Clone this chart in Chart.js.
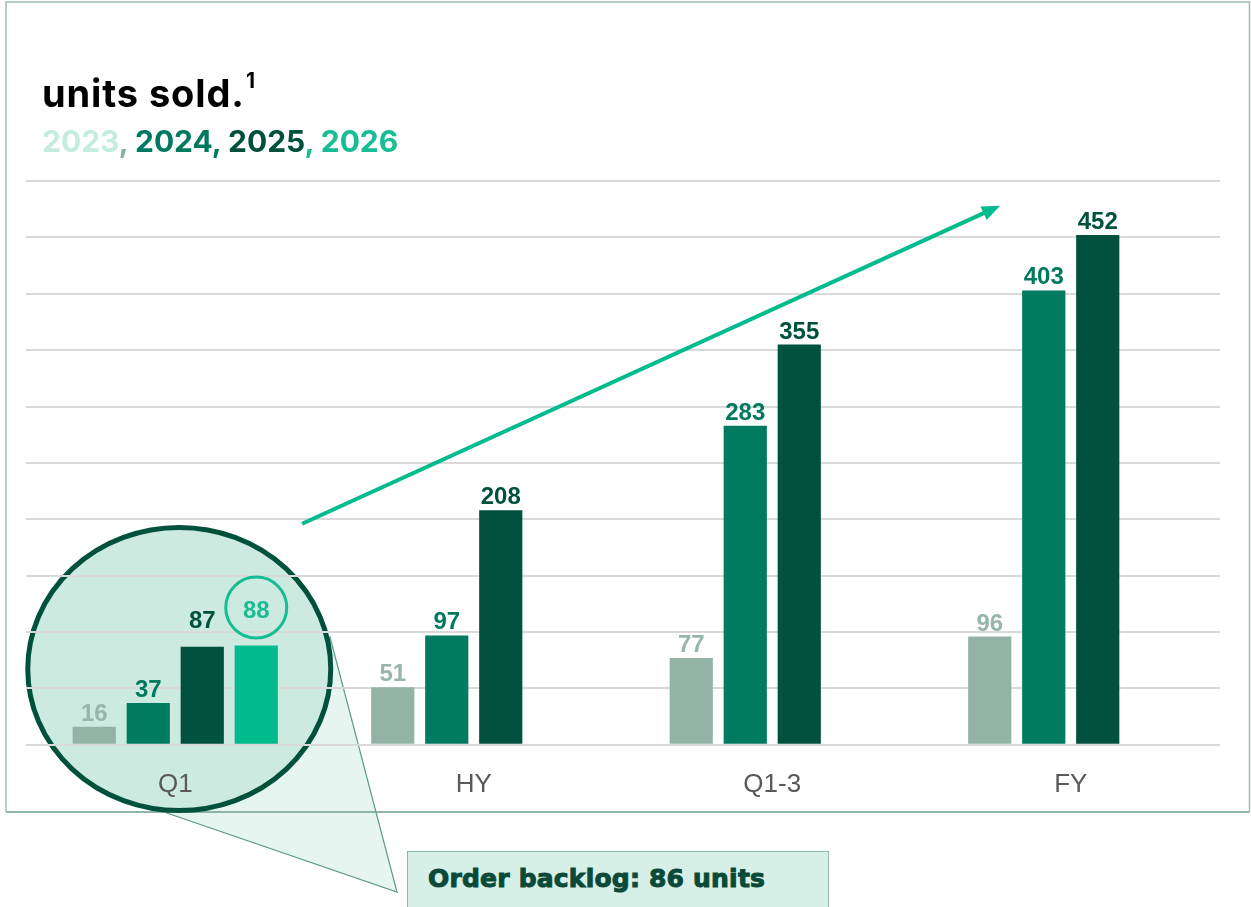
<!DOCTYPE html>
<html>
<head>
<meta charset="utf-8">
<script src="https://cdn.jsdelivr.net/npm/chart.js@4.4.1/dist/chart.umd.min.js"></script>
<style>
  html, body { margin: 0; padding: 0; background: #fff; }
  #wrap { position: relative; width: 1251px; height: 907px; overflow: hidden; }
  #chart { position: absolute; left: 0; top: 0; z-index: 0; }
  .title {
    position: absolute; left: 42px; top: 74px; z-index: 2;
    font: 700 38px Inter, "Liberation Sans", sans-serif; line-height: 38px;
    letter-spacing: 0.9px; color: #000; white-space: nowrap;
  }
  .title .sup { font-size: 21px; line-height: 0; position: relative; top: -19px; margin-left: 1px; letter-spacing: 0; }
  .subtitle {
    position: absolute; left: 42px; top: 126px; z-index: 2;
    font: 700 30px Inter, "Liberation Sans", sans-serif; line-height: 30px;
    white-space: nowrap;
  }
  .note {
    position: absolute; left: 407px; top: 851px; width: 422px; height: 80px; z-index: 2;
    box-sizing: border-box; background: #D6F0E8; border: 1.5px solid #8DB8A9;
  }
  .note span {
    position: absolute; left: 20px; top: 14px;
    font: 700 25px "DejaVu Sans", sans-serif; line-height: 25px; letter-spacing: 0.2px;
    color: #0B4A38; -webkit-text-stroke: 1px #0B4A38; white-space: nowrap;
  }
</style>
</head>
<body>
<div id="wrap">
  <canvas id="chart" width="1251" height="907"></canvas>
  <div class="title">units sold.<span class="sup">1</span></div>
  <div class="subtitle"><span style="color:#C4EDE1">2023</span><span style="color:#8FAEA2">,</span><span style="color:#007A5E"> 2024,</span><span style="color:#00513C"> 2025</span><span style="color:#17BE94">, 2026</span></div>
  <div class="note"><span>Order backlog: 86 units</span></div>
</div>
<script>
// Periods on the x axis
const categories = ['Q1', 'HY', 'Q1-3', 'FY'];
// Cumulative units sold per year
const units2023 = [16, 51, 77, 96];
const units2024 = [37, 97, 283, 403];
const units2025 = [87, 208, 355, 452];
const units2026 = [88, null, null, null];
const yearLabels = ['2023', '2024', '2025', '2026'];
// Value axis: gridlines every 50 units up to 500
const yMin = 0;
const yMax = 500;
const yStep = 50;

const barColors = ['#93B3A7', '#007B5F', '#00513D', '#00BC8C'];
const labelColors = ['#97B5AA', '#007A5E', '#00513C', '#1ABD93'];

// Raised labels for the highlighted Q1 bars (dataset index -> extra lift in px)
const q1LabelLift = { 2: 13, 3: 22 };

const decorPlugin = {
  id: 'decor',
  beforeDraw(chart) {
    const c = chart.ctx;
    c.save();
    c.fillStyle = '#fff';
    c.fillRect(0, 0, chart.width, chart.height);

    // wedge from the magnifier to the note box
    c.beginPath();
    c.moveTo(330, 637);
    c.lineTo(167, 813);
    c.lineTo(397, 892);
    c.closePath();
    c.fillStyle = '#E6F5F0';
    c.fill();
    c.strokeStyle = '#5E9A88';
    c.lineWidth = 1.2;
    c.stroke();

    // frame
    c.strokeStyle = '#9CC0B4';
    c.lineWidth = 1.5;
    c.beginPath();
    c.moveTo(6, 812); c.lineTo(6, 2); c.lineTo(1249.5, 2); c.lineTo(1249.5, 812);
    c.stroke();
    c.strokeStyle = '#6E9E8C';
    c.beginPath();
    c.moveTo(6, 812); c.lineTo(1249.5, 812);
    c.stroke();

    // magnifier around Q1
    const q1x = chart.scales.x.getPixelForValue(0);
    c.beginPath();
    c.ellipse(q1x + 4, 669, 151.5, 141.5, 0, 0, Math.PI * 2);
    c.fillStyle = '#CDEAE1';
    c.fill();
    c.strokeStyle = '#00513C';
    c.lineWidth = 5;
    c.stroke();
    c.restore();
  },
  afterDatasetsDraw(chart) {
    const c = chart.ctx;
    c.save();
    c.font = 'bold 24px "Liberation Sans", Arial, sans-serif';
    c.textAlign = 'center';
    c.textBaseline = 'alphabetic';
    chart.data.datasets.forEach((ds, di) => {
      const meta = chart.getDatasetMeta(di);
      meta.data.forEach((el, i) => {
        const v = ds.data[i];
        if (v === null || v === undefined) return;
        let y = el.y - 6;
        if (i === 0 && q1LabelLift[di]) y -= q1LabelLift[di];
        c.fillStyle = labelColors[di];
        c.fillText(String(v), el.x, y);
        if (di === 3 && i === 0) {
          // ring around the latest value
          c.beginPath();
          c.arc(el.x, y - 10, 30.5, 0, Math.PI * 2);
          c.strokeStyle = '#14BE91';
          c.lineWidth = 3;
          c.stroke();
        }
      });
    });
    c.restore();
  },
  afterDraw(chart) {
    // growth arrow
    const xs = chart.scales.x, ys = chart.scales.y;
    const xAt = f => {
      const i = Math.floor(f);
      const a = xs.getPixelForValue(i), b = xs.getPixelForValue(i + 1);
      return a + (b - a) * (f - i);
    };
    const x1 = xAt(0.425), y1 = ys.getPixelForValue(196);
    const x2 = xAt(2.763), y2 = ys.getPixelForValue(478);
    const ang = Math.atan2(y2 - y1, x2 - x1);
    const head = 18, half = 7.5;
    const bx = x2 - head * Math.cos(ang), by = y2 - head * Math.sin(ang);
    const c = chart.ctx;
    c.save();
    c.strokeStyle = '#00BC8C';
    c.fillStyle = '#00BC8C';
    c.lineWidth = 4;
    c.beginPath();
    c.moveTo(x1, y1);
    c.lineTo(bx + 2 * Math.cos(ang), by + 2 * Math.sin(ang));
    c.stroke();
    c.beginPath();
    c.moveTo(x2, y2);
    c.lineTo(bx + half * Math.sin(ang), by - half * Math.cos(ang));
    c.lineTo(bx - half * Math.sin(ang), by + half * Math.cos(ang));
    c.closePath();
    c.fill();
    c.restore();
  }
};

const seriesValues = [units2023, units2024, units2025, units2026];

new Chart(document.getElementById('chart'), {
  type: 'bar',
  data: {
    labels: categories,
    datasets: seriesValues.map((vals, i) => ({
      label: yearLabels[i],
      data: vals,
      backgroundColor: barColors[i],
      borderWidth: 0
    }))
  },
  options: {
    responsive: false,
    animation: false,
    devicePixelRatio: 1,
    layout: { padding: { left: 26, right: 31, top: 181, bottom: 83 } },
    datasets: { bar: { categoryPercentage: 0.7236, barPercentage: 0.8 } },
    plugins: { legend: { display: false }, tooltip: { enabled: false } },
    scales: {
      x: {
        grid: { display: false, drawTicks: false },
        border: { display: false },
        ticks: {
          color: '#595959',
          font: { family: '"Liberation Sans", Arial, sans-serif', size: 26 },
          padding: 24,
          maxRotation: 0
        }
      },
      y: {
        min: yMin,
        max: yMax,
        ticks: { display: false, stepSize: yStep },
        grid: { color: '#D9D9D9', lineWidth: 2, drawTicks: false },
        border: { display: false }
      }
    }
  },
  plugins: [decorPlugin]
});
</script>
</body>
</html>
